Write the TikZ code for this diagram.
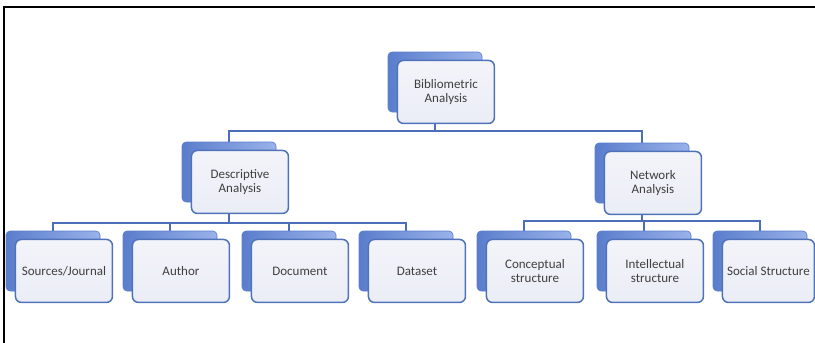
\documentclass[tikz,border=0pt]{standalone}
\usepackage{fontspec}
\setmainfont{Carlito}
\usepackage{xcolor}
\usepackage{tikz}
\usetikzlibrary{backgrounds}

\definecolor{linkblue}{HTML}{4A6EB8}
\definecolor{cardedge}{HTML}{4F72B9}
\definecolor{cardfill}{HTML}{EBEDF6}
\definecolor{backdark}{HTML}{5A7DCC}
\definecolor{backlight}{HTML}{9AB2EA}
\definecolor{textgray}{HTML}{3F3F3F}

\begin{document}
\begin{tikzpicture}[x=1pt,y=-1pt,
	cardback/.style={rectangle, rounded corners=4pt, minimum width=94pt, minimum height=60pt,
		left color=backdark, right color=backlight, draw=backdark, line width=0.6pt},
	card/.style={rectangle, rounded corners=6pt, minimum width=97pt, minimum height=63pt,
		anchor=north west, draw=cardedge, line width=1.5pt, top color=white!40!cardfill,
		bottom color=cardfill, text=textgray, align=center, inner sep=2pt,
		font=\fontsize{13}{14}\selectfont},
	link/.style={draw=linkblue, line width=1.3pt}]

\useasboundingbox (0,0) rectangle (815,343);

\draw[line width=2] (3.5,343)--(3.5,6.5)--(815,6.5);

\node[cardback] (bib-b) at (435,82) {};
\node[cardback] (des-b) at (229,172) {};
\node[cardback] (net-b) at (642,173) {};
\foreach \n/\x in {src/53,aut/170,doc/289,dat/406,con/524,int/644,soc/760}{
	\node[cardback] (\n-b) at (\x,261) {};
}

\node[card] (bib) at ([shift={(9,8)}]bib-b.north west) {Bibliometric\\Analysis};
\node[card] (des) at ([shift={(9,8)}]des-b.north west) {Descriptive\\Analysis};
\node[card] (net) at ([shift={(9,8)}]net-b.north west) {Network\\Analysis};
\node[card] (src) at ([shift={(9,8)}]src-b.north west) {Sources/Journal};
\node[card] (aut) at ([shift={(9,8)}]aut-b.north west) {Author};
\node[card] (doc) at ([shift={(9,8)}]doc-b.north west) {Document};
\node[card] (dat) at ([shift={(9,8)}]dat-b.north west) {Dataset};
\node[card] (con) at ([shift={(9,8)}]con-b.north west) {Conceptual\\structure};
\node[card] (int) at ([shift={(9,8)}]int-b.north west) {Intellectual\\structure};
\node[card, minimum width=92pt] (soc) at ([shift={(9,8)}]soc-b.north west) {Social Structure};

\coordinate (bus0) at (0,131);
\coordinate (busL) at (0,223);
\coordinate (busR) at (0,221);

\begin{scope}[on background layer]
\foreach \c in {des,net}{
	\draw[link] (bib-b.center) |- (\c-b.north |- bus0) -- (\c-b.north);
}
\foreach \c in {src,aut,doc,dat}{
	\draw[link] (des-b.center) |- (\c-b.north |- busL) -- (\c-b.north);
}
\foreach \c in {con,int,soc}{
	\draw[link] (net-b.center) |- (\c-b.north |- busR) -- (\c-b.north);
}
\end{scope}

\end{tikzpicture}
\end{document}
